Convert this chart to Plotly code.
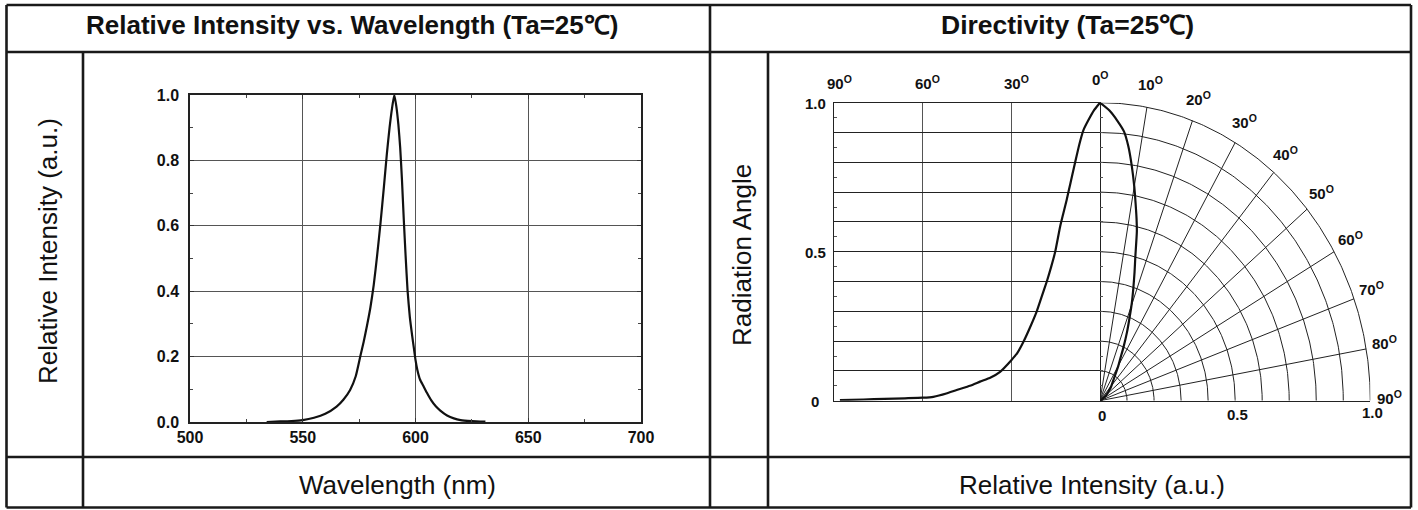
import numpy as np
import plotly.graph_objects as go

W, H = 1418, 510

# ---------------- data ----------------
wavelength_nm = [534, 540, 545, 550, 555, 560, 565, 568, 571, 573.5, 575.5, 577.0, 578.5,
                 580.0, 581.5, 583.0, 584.5, 586.0, 587.3, 588.5, 589.6, 590.6, 591.5,
                 592.4, 593.2, 594.0, 594.8, 595.6, 596.5, 597.5, 598.5, 599.3, 600.0,
                 600.8, 602.0, 603.5, 605, 607, 609, 611, 614, 617, 620, 625, 631]
rel_intensity = [0.0, 0.002, 0.003, 0.006, 0.013, 0.025, 0.047, 0.068, 0.098, 0.14, 0.20, 0.245, 0.295,
                 0.35, 0.42, 0.51, 0.61, 0.72, 0.82, 0.90, 0.96, 1.0, 0.965,
                 0.91, 0.84, 0.74, 0.62, 0.51, 0.40, 0.32, 0.265, 0.225, 0.19,
                 0.16, 0.13, 0.11, 0.09, 0.066, 0.048, 0.035, 0.02, 0.011, 0.006, 0.003, 0.001]

angle_deg = [0, 2, 4, 5.6, 7, 8.5, 10, 11.3, 12.5, 13.5, 15.2, 16.5, 18, 19.7, 21.4, 23.5,
             25.9, 28, 30, 33.8, 37, 40.6, 44, 48.5, 52, 56.4, 60, 66, 73, 80, 88]
dir_intensity = [1.0, 0.975, 0.94, 0.908, 0.86, 0.796, 0.73, 0.673, 0.625, 0.584, 0.498, 0.45,
                 0.40, 0.35, 0.30, 0.25, 0.198, 0.16, 0.136, 0.097, 0.078, 0.064, 0.05, 0.036,
                 0.024, 0.013, 0.010, 0.008, 0.006, 0.004, 0.002]

spec_xticks = [500, 550, 600, 650, 700]
spec_yticks = [0.0, 0.2, 0.4, 0.6, 0.8, 1.0]
left_angle_ticks = [90, 60, 30]
polar_angle_ticks = [0, 10, 20, 30, 40, 50, 60, 70, 80, 90]
polar_radii = [0.1, 0.2, 0.3, 0.4, 0.5, 0.6, 0.7, 0.8, 0.9, 1.0]
polar_spokes = [10, 20, 30, 40, 50, 60, 70, 80]
dir_yticks = [0, 0.5, 1.0]
dir_yticktext = ["0", "0.5", "1.0"]
polar_rticks = [0, 0.5, 1.0]
polar_rticktext = ["0", "0.5", "1.0"]

FONT = "Liberation Sans, Arial, Helvetica, sans-serif"


def px(x):
    return x / W


def py(y):
    return 1 - y / H


fig = go.Figure()

curve_line = dict(color="#111", width=2.2, shape="spline", smoothing=0.5)

# ---------------- spectrum ----------------
fig.add_trace(go.Scatter(x=wavelength_nm, y=rel_intensity, mode="lines", line=curve_line,
                         xaxis="x", yaxis="y", hoverinfo="skip"))

# ---------------- directivity: cartesian (left part) ----------------
fig.add_trace(go.Scatter(x=angle_deg, y=dir_intensity, mode="lines", line=curve_line,
                         xaxis="x3", yaxis="y3", hoverinfo="skip"))

# ---------------- directivity: polar grid (right quarter) ----------------
t = np.radians(np.linspace(0, 90, 181))
gx, gy = [], []
for r in polar_radii:
    gx += list(r * np.sin(t)) + [None]
    gy += list(r * np.cos(t)) + [None]
for a in polar_spokes:
    ar = np.radians(a)
    gx += [0, np.sin(ar), None]
    gy += [0, np.cos(ar), None]
fig.add_trace(go.Scatter(x=gx, y=gy, mode="lines", line=dict(color="#222", width=1),
                         xaxis="x4", yaxis="y4", hoverinfo="skip"))

th = np.radians(np.array(angle_deg))
rr = np.array(dir_intensity)
fig.add_trace(go.Scatter(x=rr * np.sin(th), y=rr * np.cos(th), mode="lines", line=curve_line,
                         xaxis="x4", yaxis="y4", hoverinfo="skip"))

tickfont = dict(family=FONT, size=16, color="#111", weight="bold")
DIR_DOM = [py(400.7), py(102.7)]

layout = dict(
    template="none",
    width=W, height=H, autosize=False, margin=dict(l=0, r=0, t=0, b=0, pad=0),
    paper_bgcolor="white", plot_bgcolor="rgba(0,0,0,0)", showlegend=False,
    font=dict(family=FONT, color="#111"),
    xaxis=dict(domain=[px(190), px(641)], range=[500, 700], anchor="y", automargin=False,
               tickvals=spec_xticks, ticks="inside", ticklen=4, tickcolor="#333",
               showgrid=True, gridcolor="#555", gridwidth=1, zeroline=False,
               showline=True, linecolor="#222", linewidth=1.5, mirror="ticks",
               minor=dict(ticks="inside", ticklen=3, tickcolor="#444", dtick=25, tick0=500, showgrid=False),
               tickfont=tickfont, ticklabelstandoff=0),
    yaxis=dict(domain=[py(422), py(95)], range=[0, 1], anchor="x", automargin=False,
               tickvals=spec_yticks, tickformat=".1f", ticks="inside", ticklen=4, tickcolor="#333",
               showgrid=True, gridcolor="#555", gridwidth=1, zeroline=False,
               showline=True, linecolor="#222", linewidth=1.5, mirror="ticks",
               minor=dict(ticks="inside", ticklen=3, tickcolor="#444", dtick=0.1, tick0=0, showgrid=False),
               tickfont=tickfont, ticklabelstandoff=6),
    xaxis3=dict(domain=[px(834), px(1100)], range=[90, 0], anchor="y3", automargin=False,
                tickvals=[90, 60, 30, 0], showticklabels=False, ticks="",
                showgrid=True, gridcolor="#555", gridwidth=1, zeroline=False,
                showline=True, linecolor="#222", linewidth=1.2, mirror=True),
    yaxis3=dict(domain=DIR_DOM, range=[0, 1], anchor="x3", automargin=False,
                dtick=0.1, tick0=0, showticklabels=False, ticks="",
                showgrid=True, gridcolor="#222", gridwidth=1, zeroline=False,
                showline=True, linecolor="#222", linewidth=1.2, mirror=True,
                minor=dict(ticks="inside", ticklen=3, tickcolor="#555", dtick=0.05, tick0=0, showgrid=False)),
    xaxis4=dict(domain=[px(1100), px(1370.3)], range=[0, 1], anchor="y4", automargin=False,
                showticklabels=False, ticks="", showgrid=False, zeroline=False,
                showline=True, linecolor="#222", linewidth=1.2),
    yaxis4=dict(domain=DIR_DOM, range=[0, 1], anchor="x4", automargin=False,
                showticklabels=False, showgrid=False, zeroline=False, showline=False,
                ticks="inside", ticklen=3, tickcolor="#555", dtick=0.05, tick0=0),
)
fig.update_layout(**layout)

# ---------------- table frame ----------------
L, R, T, B = 6.5, 1411, 5, 507.5
MID, HB, FT = 710, 52, 457
LI, RI = 83, 768
frame_lines = [
    (L, T, R, T), (L, B, R, B), (L, T, L, B), (R, T, R, B),
    (MID, T, MID, B), (L, HB, R, HB), (L, FT, R, FT),
    (LI, HB, LI, B), (RI, HB, RI, B),
]
for x0, y0, x1, y1 in frame_lines:
    fig.add_shape(type="line", xref="paper", yref="paper",
                  x0=px(x0), y0=py(y0), x1=px(x1), y1=py(y1),
                  line=dict(color="#1a1a1a", width=2.6))

ann = []
# titles
ann.append(dict(text="Relative Intensity vs. Wavelength (Ta=25℃)", x=px(352), y=py(25),
                xref="paper", yref="paper", font=dict(size=26, weight="bold")))
ann.append(dict(text="Directivity (Ta=25℃)", x=px(1067), y=py(25),
                xref="paper", yref="paper", font=dict(size=26.5, weight="bold")))
# footers
ann.append(dict(text="Wavelength (nm)", x=px(397), y=py(485),
                xref="paper", yref="paper", font=dict(size=26)))
ann.append(dict(text="Relative Intensity (a.u.)", x=px(1092), y=py(485),
                xref="paper", yref="paper", font=dict(size=26)))
# rotated axis titles
ann.append(dict(text="Relative Intensity (a.u.)", x=px(48), y=py(251), textangle=-90,
                xref="paper", yref="paper", font=dict(size=26)))
ann.append(dict(text="Radiation Angle", x=px(742), y=py(255), textangle=-90,
                xref="paper", yref="paper", font=dict(size=26)))
for a in ann:
    a["font"] = dict(family=FONT, color="#111", **a["font"])

lab_font = dict(family=FONT, size=15, color="#111", weight="bold")
# left-part angle labels
for a in left_angle_ticks:
    ann.append(dict(text=f"{a}<sup>O</sup>", x=a, xref="x3", y=py(83), yref="paper",
                    xshift=5, font=lab_font))
# polar angle labels (axis-domain units equal data units here)
for a in polar_angle_ticks:
    ar = np.radians(a)
    ann.append(dict(text=f"{a}<sup>O</sup>", x=1.07 * np.sin(ar), y=1.07 * np.cos(ar),
                    xref="x4 domain", yref="y4 domain", yshift=3, font=lab_font))
# left y labels of directivity
for v, s in zip(dir_yticks, dir_yticktext):
    ann.append(dict(text=s, x=px(815), xref="paper", y=v, yref="y3 domain", yshift=-1,
                    font=lab_font))
# polar radius labels
for v, s, yy in zip(polar_rticks, polar_rticktext, [415, 414, 412]):
    ann.append(dict(text=s, x=v, xref="x4 domain", y=py(yy), yref="paper", xshift=2,
                    font=lab_font))

for a in ann:
    a.update(showarrow=False, xanchor="center", yanchor="middle")

fig.update_layout(annotations=ann)
fig.write_html("out.html", config={"displayModeBar": False},
               post_script="document.body.style.margin='0';document.body.style.padding='0';")
